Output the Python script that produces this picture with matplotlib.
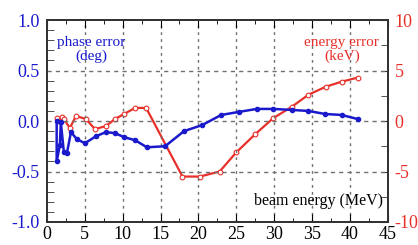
import matplotlib.pyplot as plt
from matplotlib.ticker import MultipleLocator

# beam energy (MeV) and phase error (deg)
phase_x = [1.3, 1.3, 1.72, 1.85, 2.25, 2.65, 3.18, 3.97, 5.03, 6.5, 7.8, 9.0,
           10.2, 11.65, 13.2, 15.6, 18.1, 20.5, 23.0, 25.3, 27.7, 29.9, 32.3,
           34.5, 36.7, 38.9, 41.0]
phase_y = [0.0, -0.4, -0.24, -0.01, -0.31, -0.32, -0.11, -0.18, -0.22, -0.15,
           -0.11, -0.12, -0.16, -0.19, -0.26, -0.25, -0.10, -0.04, 0.06, 0.09,
           0.12, 0.12, 0.11, 0.10, 0.07, 0.06, 0.02]

# beam energy (MeV) and energy error (keV)
energy_x = [1.32, 1.6, 1.98, 2.25, 3.04, 3.84, 5.16, 6.35, 7.8, 9.0, 10.2,
            11.65, 13.1, 17.9, 20.2, 22.8, 25.0, 27.5, 29.9, 32.3, 34.5, 36.8,
            38.9, 41.0]
energy_y = [0.3, 0.0, 0.4, 0.2, -0.7, 0.5, 0.2, -0.8, -0.5, 0.2, 0.7, 1.3, 1.3,
            -5.5, -5.5, -5.0, -3.1, -1.3, 0.3, 1.4, 2.6, 3.4, 3.9, 4.3]

# tick labels
x_ticks = [0, 5, 10, 15, 20, 25, 30, 35, 40, 45]
x_labels = ['0', '5', '10', '15', '20', '25', '30', '35', '40', '45']
phase_ticks = [-1.0, -0.5, 0.0, 0.5, 1.0]
phase_labels = ['-1.0', '-0.5', '0.0', '0.5', '1.0']
energy_ticks = [-10, -5, 0, 5, 10]
energy_labels = ['-10', '-5', '0', '5', '10']

blue = '#1a1acc'
red = '#e8302a'
serif = ['Liberation Serif', 'DejaVu Serif']

plt.rcParams['font.family'] = serif

fig = plt.figure(figsize=(4.18, 2.45), dpi=100)
ax = fig.add_axes([0.112, 0.094, 0.816, 0.824])
ax2 = ax.twinx()

ax.set_xlim(0, 45)
ax.set_ylim(-1.0, 1.0)
ax2.set_ylim(-10, 10)

for y in phase_ticks[1:-1]:
    ax.axhline(y, color='#707070', lw=1, ls=(0, (3, 3)), zorder=0)
for x in x_ticks[1:-1]:
    ax.axvline(x, color='#707070', lw=1, ls=(0, (2, 3)), zorder=0)

ax2.plot(energy_x, energy_y, color=red, lw=1.6, marker='o', ms=3.4,
         mfc='white', mec=red, mew=0.8, zorder=3)
ax.plot(phase_x, phase_y, color=blue, lw=1.8, marker='o', ms=3,
        mfc=blue, mec=blue, zorder=4)
ax.set_zorder(ax2.get_zorder() + 1)
ax.patch.set_visible(False)

ax.set_xticks(x_ticks)
ax.set_xticklabels(x_labels, fontfamily=serif)
ax.xaxis.set_minor_locator(MultipleLocator(2.5))
ax.set_yticks(phase_ticks)
ax.set_yticklabels(phase_labels, fontfamily=serif)
ax.yaxis.set_minor_locator(MultipleLocator(0.1))
ax2.set_yticks(energy_ticks)
ax2.set_yticklabels(energy_labels, fontfamily=serif)
ax2.yaxis.set_minor_locator(MultipleLocator(2.5))

ax.tick_params(axis='x', which='both', direction='in', top=True, labelsize=13,
               colors='black', pad=3)
ax.tick_params(axis='x', which='major', length=6)
ax.tick_params(axis='x', which='minor', length=3)
ax.tick_params(axis='y', which='both', direction='in', labelsize=13,
               labelcolor=blue, color='#333333')
ax.tick_params(axis='y', which='major', length=0, pad=5)
ax.tick_params(axis='y', which='minor', length=5)
ax2.tick_params(axis='y', which='both', direction='in', labelsize=13,
                labelcolor=red, color='#333333', length=5, pad=5)

for a in (ax, ax2):
    for s in a.spines.values():
        s.set_color('#333333')
        s.set_linewidth(1.4)

ax.text(0.13, 0.855, 'phase error\n(deg)', transform=ax.transAxes, color=blue,
        fontsize=11, ha='center', va='center', linespacing=1.05)
ax.text(0.865, 0.855, 'energy error\n(keV)', transform=ax.transAxes, color=red,
        fontsize=11, ha='center', va='center', linespacing=1.05)
ax.text(0.985, 0.105, 'beam energy (MeV)', transform=ax.transAxes, color='black',
        fontsize=11.5, ha='right', va='center')

fig.savefig('out.png', dpi=100)
